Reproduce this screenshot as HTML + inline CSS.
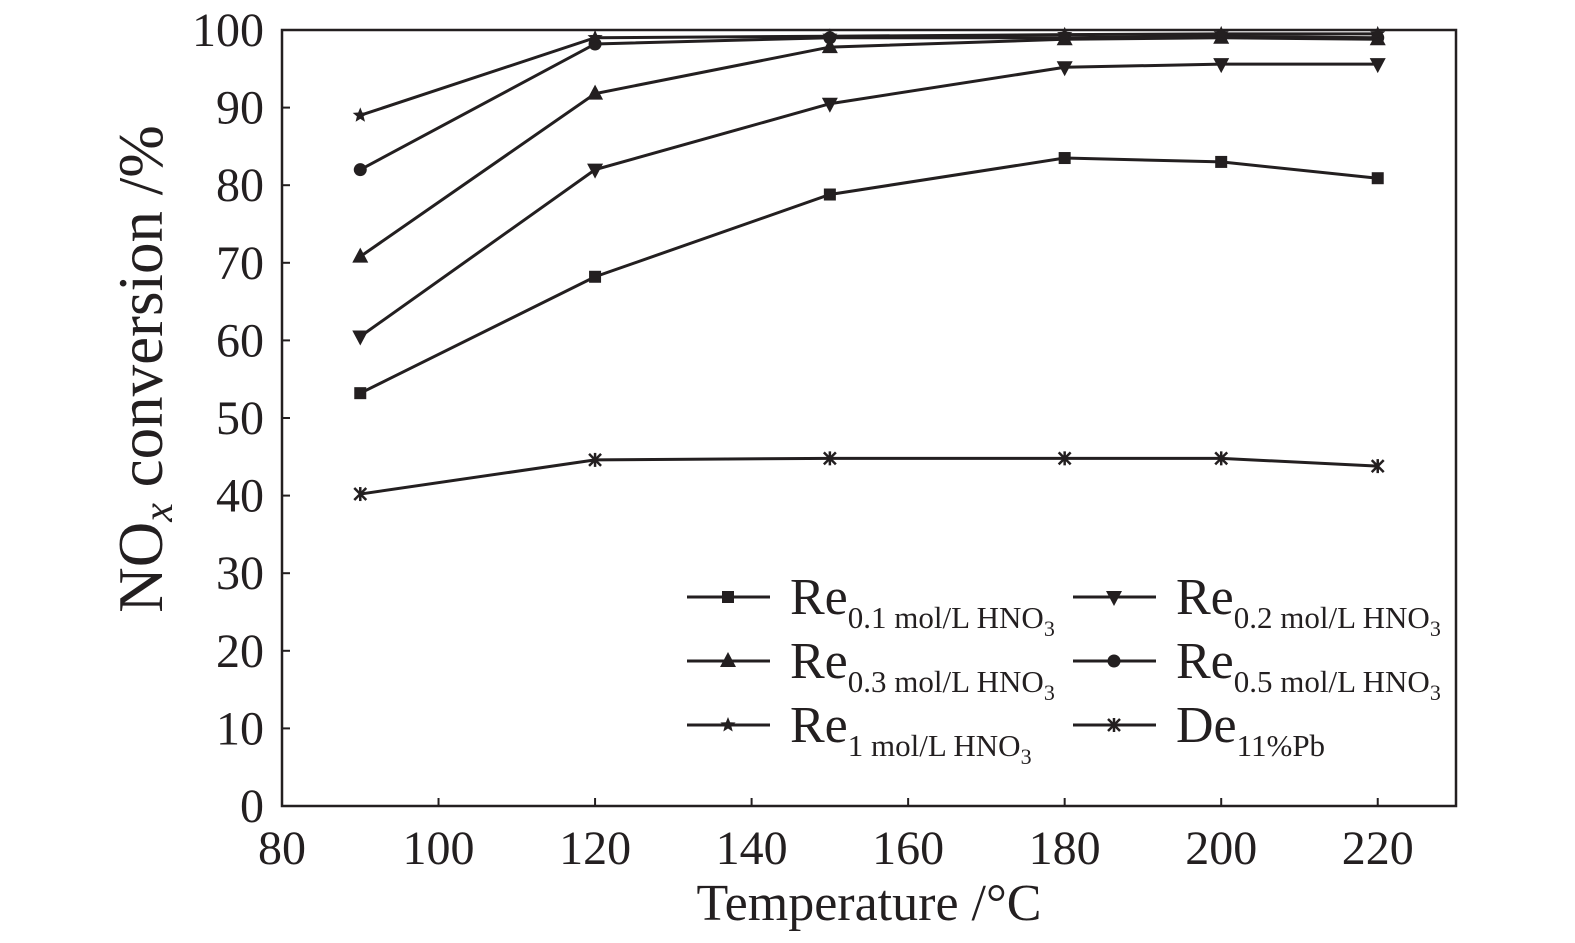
<!DOCTYPE html>
<html><head><meta charset="utf-8"><style>
body{margin:0;background:#fff;}
svg text{font-family:"Liberation Serif",serif;fill:#231f20;}
</style></head><body>
<svg id="c" width="1575" height="938" xmlns="http://www.w3.org/2000/svg"></svg>
<script>
const temps=[90,120,150,180,200,220];
const re01=[53.2,68.2,78.8,83.5,83.0,80.9];
const re02=[60.5,82.0,90.5,95.2,95.6,95.6];
const re03=[70.8,91.8,97.8,98.8,99.0,98.8];
const re05=[82.0,98.2,99.0,99.0,99.2,99.0];
const re1=[89.0,99.0,99.2,99.4,99.5,99.5];
const de=[40.2,44.6,44.8,44.8,44.8,43.8];
const xTicks=[80,100,120,140,160,180,200,220];
const yTicks=[0,10,20,30,40,50,60,70,80,90,100];
const NS="http://www.w3.org/2000/svg";
const svg=document.getElementById('c');
const X0=282,X1=1456,Y0=806,Y1=30;
const sx=v=>X0+(v-80)/150*(X1-X0);
const sy=v=>Y0-(v/100)*(Y0-Y1);
function mk(t,a,p){const e=document.createElementNS(NS,t);for(const k in a)e.setAttribute(k,a[k]);(p||svg).appendChild(e);return e;}
const col="#231f20";
let e=mk('rect',{x:X0,y:Y1,width:X1-X0,height:Y0-Y1,fill:'none',stroke:col,'stroke-width':2.5});


xTicks.forEach(v=>{
 let t=mk('line',{x1:sx(v),x2:sx(v),y1:Y0,y2:Y0-8,stroke:col,'stroke-width':2});
 
 
 let l=mk('text',{x:sx(v),y:Y0+58,'text-anchor':'middle','font-size':48});l.textContent=v;
 
 
});
yTicks.forEach(v=>{
 let t=mk('line',{x1:X0,x2:X0+8,y1:sy(v),y2:sy(v),stroke:col,'stroke-width':2});
 
 
 let l=mk('text',{x:X0-18,y:sy(v)+16,'text-anchor':'end','font-size':48});l.textContent=v;
 
 
});
let xt=mk('text',{x:869,y:920,'text-anchor':'middle','font-size':52});xt.textContent='Temperature /°C';


let yt=mk('text',{transform:'translate(162,369) rotate(-90)','text-anchor':'middle','font-size':63});
yt.innerHTML='NO<tspan font-style="italic" font-size="42" dy="10">x</tspan><tspan dy="-10"> conversion /%</tspan>';


function marker(type,x,y,g){
 if(type==='sq')return mk('rect',{x:x-6,y:y-6,width:12,height:12,fill:col},g);
 if(type==='tri')return mk('polygon',{points:`${x},${y-9} ${x-8},${y+6} ${x+8},${y+6}`,fill:col},g);
 if(type==='itri')return mk('polygon',{points:`${x},${y+9} ${x-8},${y-6} ${x+8},${y-6}`,fill:col},g);
 if(type==='circ')return mk('circle',{cx:x,cy:y,r:6.5,fill:col},g);
 if(type==='star'){let p=[];for(let i=0;i<10;i++){const r=i%2?3.5:8,a=-Math.PI/2+i*Math.PI/5;p.push((x+r*Math.cos(a)).toFixed(1)+','+(y+r*Math.sin(a)).toFixed(1));}return mk('polygon',{points:p.join(' '),fill:col},g);}
 if(type==='ast'){const s=mk('g',{stroke:col,'stroke-width':2.5},g);[[-6,-6,6,6],[-6,6,6,-6],[0,-7,0,7]].forEach(d=>mk('line',{x1:x+d[0],y1:y+d[1],x2:x+d[2],y2:y+d[3]},s));return s;}
}
const series=[[re01,'sq','series-re-0-1'],[re02,'itri','series-re-0-2'],[re03,'tri','series-re-0-3'],[re05,'circ','series-re-0-5'],[re1,'star','series-re-1'],[de,'ast','series-de-11pb']];
series.forEach(([vals,m,name])=>{
 const g=mk('g',{});
 
 
 mk('polyline',{points:vals.map((v,i)=>sx(temps[i])+','+sy(v)).join(' '),fill:'none',stroke:col,'stroke-width':3},g);
 vals.forEach((v,i)=>{const p=marker(m,sx(temps[i]),sy(v),g);
  
  });
});
const leg=[['sq','0.1 mol/L HNO','3',0,0],['itri','0.2 mol/L HNO','3',1,0],['tri','0.3 mol/L HNO','3',0,1],['circ','0.5 mol/L HNO','3',1,1],['star','1 mol/L HNO','3',0,2],['ast','11%Pb','',1,2]];
leg.forEach(([m,sub,s3,c,r])=>{
 const g=mk('g',{});
 
 
 const lx=c?1073:687,ly=597+r*64;
 mk('line',{x1:lx,x2:lx+83,y1:ly,y2:ly,stroke:col,'stroke-width':3},g);
 marker(m,lx+41,ly,g);
 const t=mk('text',{x:lx+103,y:ly+17,'font-size':52},g);
 t.innerHTML=(m==='ast'?'De':'Re')+'<tspan font-size="31" dy="14">'+sub+'</tspan>'+(s3?'<tspan font-size="22" dy="8">'+s3+'</tspan>':'');
});
</script>
</body></html>
